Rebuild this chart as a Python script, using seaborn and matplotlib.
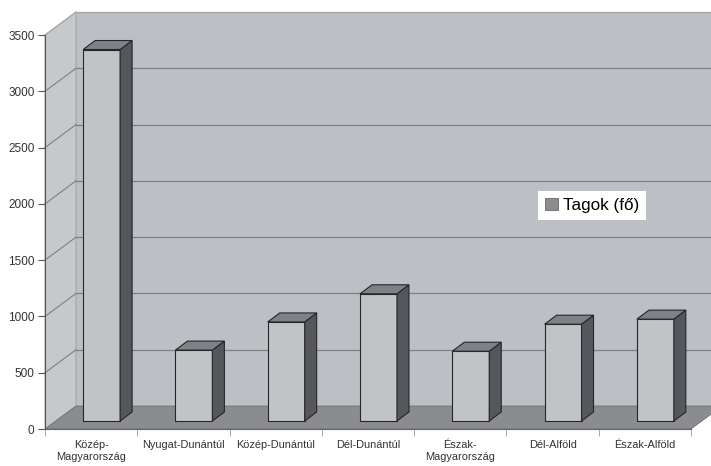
import matplotlib
matplotlib.use("Agg")
import matplotlib.pyplot as plt
from matplotlib.patches import Polygon, Patch
import seaborn as sns
import pandas as pd

# ---- data ----
regions = ["Közép-\nMagyarország", "Nyugat-Dunántúl", "Közép-Dunántúl",
           "Dél-Dunántúl", "Észak-\nMagyarország", "Dél-Alföld", "Észak-Alföld"]
members = [3300, 630, 880, 1130, 620, 860, 905]
series_name = "Tagok (fő)"
y_ticks = [0, 500, 1000, 1500, 2000, 2500, 3000, 3500]

plt.rcParams['font.family'] = ['Liberation Sans', 'DejaVu Sans']

W, H = 711, 466
fig = plt.figure(figsize=(W / 100, H / 100), dpi=100)
ax = fig.add_axes([45 / W, 37 / H, 646 / W, 394 / H])

YMAX = 3500
ncat = len(regions)
px_per_cat = 646 / ncat
px_per_val = 394 / YMAX

def dxy(px_x, px_y):
    return px_x / px_per_cat, px_y / px_per_val

# depth of the 3D box (full) and the bar offsets
DX, DY = dxy(31, 23)
BDX, BDY = dxy(10.5, 8)
EDX, EDY = dxy(12, 9)

wall_col = "#bcc0c4"
side_col = "#c6c8ca"
floor_col = "#8b8c8f"
grid_col = "#7e8084"
front_col = "#c1c3c6"
bside_col = "#55575c"
btop_col = "#7f8186"
edge_col = "#262628"

x0, x1 = -0.5, ncat - 0.5
# back wall
ax.add_patch(Polygon([(x0 + DX, DY), (x1 + DX + 1, DY), (x1 + DX + 1, YMAX + DY),
                      (x0 + DX, YMAX + DY)], closed=True, facecolor=wall_col,
                     edgecolor="none", clip_on=False, zorder=0))
# side wall
ax.add_patch(Polygon([(x0, 0), (x0 + DX, DY), (x0 + DX, YMAX + DY), (x0, YMAX)],
                     closed=True, facecolor=side_col, edgecolor="#9a9ca0",
                     linewidth=0.6, clip_on=False, zorder=0.5))
# gridlines
for v in y_ticks[1:]:
    lc = grid_col if v < YMAX else "#a4a6aa"
    ax.plot([x0 + DX, x1 + DX + 1], [v + DY, v + DY], color=lc, lw=0.9,
            clip_on=False, zorder=0.8)
    ax.plot([x0, x0 + DX], [v, v + DY], color=lc, lw=0.8,
            clip_on=False, zorder=0.8)
# floor
ax.add_patch(Polygon([(x0, 0), (x1, 0), (x1 + DX, DY), (x0 + DX, DY)], closed=True,
                     facecolor=floor_col, edgecolor="#6f7074", linewidth=0.6,
                     clip_on=False, zorder=1))

df = pd.DataFrame({"Régió": regions, series_name: members})
sns.barplot(data=df, x="Régió", y=series_name, color=front_col, saturation=1,
            width=0.4, edgecolor=edge_col, linewidth=0.8, ax=ax, zorder=3)

for p in list(ax.patches):
    if not hasattr(p, "get_width") or p.get_height() <= 0:
        continue
    if p.get_facecolor()[:3] == matplotlib.colors.to_rgb(floor_col):
        continue
    x, w, h = p.get_x(), p.get_width(), p.get_height()
    p.set_x(x + BDX)
    p.set_y(BDY)
    p.set_clip_on(False)
    xl, xr = x + BDX, x + BDX + w
    yb, yt = BDY, BDY + h
    ax.add_patch(Polygon([(xr, yb), (xr + EDX, yb + EDY), (xr + EDX, yt + EDY), (xr, yt)],
                         closed=True, facecolor=bside_col, edgecolor=edge_col,
                         linewidth=0.8, clip_on=False, zorder=3))
    ax.add_patch(Polygon([(xl, yt), (xr, yt), (xr + EDX, yt + EDY), (xl + EDX, yt + EDY)],
                         closed=True, facecolor=btop_col, edgecolor=edge_col,
                         linewidth=0.8, clip_on=False, zorder=3))

ax.set_xlim(x0, x1)
ax.set_ylim(0, YMAX)
ax.set_yticks(y_ticks)
ax.set_yticklabels([str(t) for t in y_ticks], fontsize=8.5, color="#333333")
ax.tick_params(axis="y", length=5, width=0.8, color="#555555", pad=2.5)
ax.set_xticks(range(ncat))
ax.set_xticklabels(regions, fontsize=7.9, color="#333333", linespacing=1.2)
ax.tick_params(axis="x", which="major", length=0, pad=8)
ax.set_xticks([i - 0.5 for i in range(ncat + 1)], minor=True)
ax.tick_params(axis="x", which="minor", length=5, width=0.6, color="#999999")
ax.set_xlabel("")
ax.set_ylabel("")
ax.set_facecolor("none")
for s in ["top", "right"]:
    ax.spines[s].set_visible(False)
ax.spines["left"].set_color("#555555")
ax.spines["left"].set_linewidth(0.8)
ax.spines["bottom"].set_color("#666666")
ax.spines["bottom"].set_linewidth(0.8)

handle = Patch(facecolor="#8a8c90", edgecolor="#555555", linewidth=0.5)
leg = fig.legend([handle], [series_name], loc="center",
                 bbox_to_anchor=(592 / W, 1 - 205.5 / H), fontsize=12.3,
                 frameon=True, fancybox=False, framealpha=1, edgecolor="none",
                 facecolor="white", handlelength=0.75, handleheight=0.7,
                 handletextpad=0.3, borderpad=0.4, borderaxespad=0)

fig.savefig("out.png", dpi=100, facecolor="white")
